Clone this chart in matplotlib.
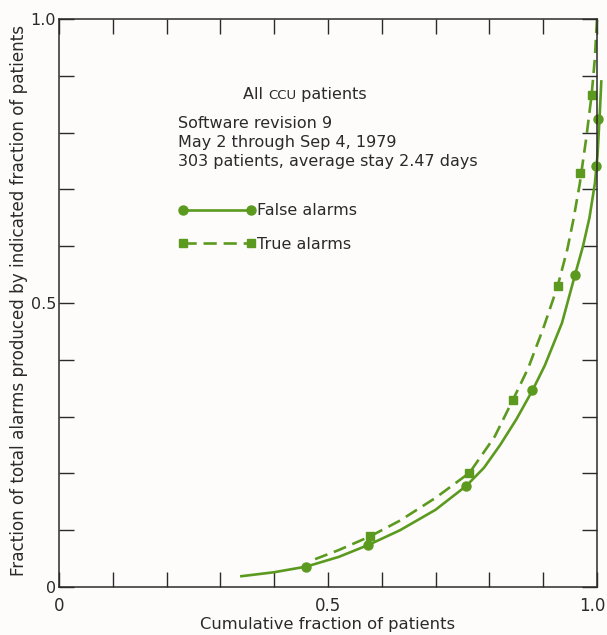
import matplotlib.pyplot as plt
from matplotlib.lines import Line2D
from matplotlib.ticker import MultipleLocator, FixedLocator
from matplotlib.transforms import ScaledTranslation

false_x = [0.460, 0.575, 0.757, 0.880, 0.959, 0.998, 1.002]
false_y = [0.036, 0.074, 0.178, 0.346, 0.549, 0.742, 0.824]
true_x = [0.578, 0.763, 0.844, 0.927, 0.968, 0.990]
true_y = [0.089, 0.201, 0.330, 0.530, 0.729, 0.866]

# fitted curves
false_curve_x = [0.339, 0.40, 0.46, 0.52, 0.575, 0.634, 0.70, 0.757, 0.79, 0.82, 0.85,
                 0.88, 0.903, 0.935, 0.959, 0.974, 0.986, 0.996, 1.001, 1.005, 1.008]
false_curve_y = [0.019, 0.026, 0.036, 0.053, 0.074, 0.100, 0.136, 0.178, 0.210, 0.250,
                 0.295, 0.346, 0.390, 0.465, 0.549, 0.600, 0.650, 0.710, 0.760, 0.830,
                 0.890]
true_curve_x = [0.476, 0.52, 0.578, 0.634, 0.70, 0.763, 0.81, 0.844, 0.872, 0.90,
                0.927, 0.945, 0.956, 0.968, 0.98, 0.99, 0.996, 1.0]
true_curve_y = [0.049, 0.065, 0.089, 0.117, 0.157, 0.201, 0.265, 0.330, 0.385, 0.455,
                0.530, 0.595, 0.646, 0.710, 0.790, 0.866, 0.930, 1.0]

GREEN = '#5b9a1f'
INK = '#2a2a2a'
plt.rcParams['font.family'] = ['DejaVu Sans']

fig = plt.figure(figsize=(6.07, 6.35), dpi=100, facecolor='#fdfcfb')
ax = fig.add_axes([0.0972, 0.0756, 0.8863, 0.8945])
ax.set_facecolor('#fdfcfb')

ax.plot(false_curve_x, false_curve_y, color=GREEN, lw=1.9, clip_on=False)
ax.plot(true_curve_x, true_curve_y, color=GREEN, lw=1.9, ls=(0, (5, 2.6)), clip_on=False)
ax.plot(false_x, false_y, 'o', color=GREEN, ms=6.5, clip_on=False)
ax.plot(true_x, true_y, 's', color=GREEN, ms=5.8, clip_on=False)

ax.set_xlim(0, 1)
ax.set_ylim(0, 1)
for s in ax.spines.values():
    s.set_color(INK)
    s.set_linewidth(1.1)

ax.xaxis.set_major_locator(FixedLocator([0, 0.5, 1.0]))
ax.yaxis.set_major_locator(FixedLocator([0, 0.5, 1.0]))
ax.xaxis.set_minor_locator(MultipleLocator(0.1))
ax.yaxis.set_minor_locator(MultipleLocator(0.1))
ax.set_xticklabels(['0', '0.5', '1.0'])
ax.set_yticklabels(['0', '0.5', '1.0'])
ax.tick_params(which='both', direction='in', length=10.5, width=1.0, color=INK,
               top=True, right=True)
ax.tick_params(axis='x', labelsize=12, pad=7, labelcolor=INK)
ax.tick_params(axis='y', labelsize=11.5, pad=2, labelcolor=INK)
# pull the last x label in so it stays on the page
last = ax.get_xticklabels()[-1]
last.set_transform(last.get_transform() + ScaledTranslation(-5 / 100, 0, fig.dpi_scale_trans))

ax.set_xlabel('Cumulative fraction of patients', fontsize=11.8, color=INK)
ax.xaxis.set_label_coords(0.5, -0.052)
ax.set_ylabel('Fraction of total alarms produced by indicated fraction of patients',
              fontsize=12.1, color=INK)
ax.yaxis.set_label_coords(-0.057, 0.505)

# annotation block
t1 = ax.text(0.342, 0.859, 'All ', fontsize=11.5, color=INK, va='baseline')
t2 = ax.annotate('CCU', xy=(1, 0), xycoords=t1, fontsize=9.5, color=INK, va='bottom')
ax.annotate(' patients', xy=(1, 0), xycoords=t2, fontsize=11.5, color=INK, va='bottom')
info = ['Software revision 9', 'May 2 through Sep 4, 1979',
        '303 patients, average stay 2.47 days']
for line, yb in zip(info, [0.808, 0.775, 0.741]):
    ax.text(0.222, yb, line, fontsize=11.5, color=INK, va='baseline')

handles = [Line2D([], [], color=GREEN, lw=1.9, marker='o', ms=6.5),
           Line2D([], [], color=GREEN, lw=1.9, ls=(0, (5, 2.6)), marker='s', ms=5.8)]
leg = ax.legend(handles, ['False alarms', 'True alarms'], loc='upper left',
                bbox_to_anchor=(0.209, 0.687), frameon=False, numpoints=2,
                handlelength=4.85, handletextpad=0.1, labelspacing=1.15, fontsize=11.5,
                borderaxespad=0)
for t in leg.get_texts():
    t.set_color(INK)

fig.savefig('out.png', dpi=100, facecolor=fig.get_facecolor())
